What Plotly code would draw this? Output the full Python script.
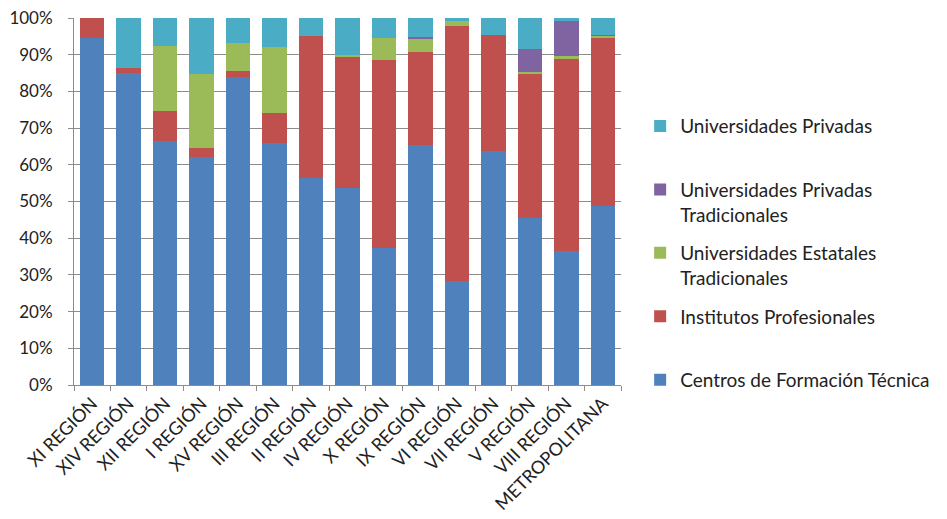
import plotly.graph_objects as go

regiones = ["XI REGIÓN", "XIV REGIÓN", "XII REGIÓN", "I REGIÓN", "XV REGIÓN",
            "III REGIÓN", "II REGIÓN", "IV REGIÓN", "X REGIÓN", "IX REGIÓN",
            "VI REGIÓN", "VII REGIÓN", "V REGIÓN", "VIII REGIÓN", "METROPOLITANA"]

# Share of enrolment by institution type (%)
cft = [94.5, 85.0, 66.5, 62.2, 84.0, 66.0, 56.4, 53.7, 37.4, 65.4, 28.4, 63.8, 45.5, 36.5, 48.8]
ip = [5.5, 1.4, 8.2, 2.3, 1.6, 8.1, 38.7, 35.8, 51.2, 25.3, 69.5, 31.6, 39.2, 52.2, 45.7]
uet = [0.0, 0.0, 17.7, 20.2, 7.6, 18.0, 0.0, 0.3, 5.9, 3.8, 1.3, 0.0, 0.7, 0.9, 0.8]
upt = [0.0, 0.0, 0.0, 0.0, 0.0, 0.0, 0.0, 0.0, 0.0, 0.3, 0.0, 0.0, 6.2, 9.6, 0.2]
up = [0.0, 13.6, 7.6, 15.3, 6.8, 7.9, 4.9, 10.2, 5.5, 5.2, 0.8, 4.6, 8.4, 0.8, 4.5]

series = [
    ("Centros de Formación Técnica<br> ", cft, "#4F81BD"),
    ("Institutos Profesionales<br> ", ip, "#C0504D"),
    ("Universidades Estatales<br>Tradicionales", uet, "#9BBB59"),
    ("Universidades Privadas<br>Tradicionales", upt, "#8064A2"),
    ("Universidades Privadas<br> ", up, "#4BACC6"),
]

fig = go.Figure()
n = len(series)
for i, (name, vals, color) in enumerate(series):
    fig.add_trace(go.Bar(
        x=regiones, y=vals, name=name, legendgroup=f"g{i}",
        legendrank=n - i,
        marker=dict(color=color, line=dict(width=0)),
    ))

font_family = "Lato, 'Open Sans', sans-serif"
grid = "#8C8C8C"
fig.update_layout(
    barmode="stack",
    bargap=0.33,
    width=947, height=519,
    margin=dict(l=74, r=311, t=18, b=134),
    paper_bgcolor="white",
    plot_bgcolor="white",
    font=dict(family=font_family, color="#222222"),
    legend=dict(
        traceorder="grouped",
        tracegroupgap=11,
        valign="top",
        x=1.035, xanchor="left",
        y=0.757, yanchor="top",
        font=dict(size=19, family=font_family, color="#222222"),
        itemwidth=30,
    ),
    yaxis=dict(
        range=[0, 100],
        tickvals=list(range(0, 101, 10)),
        ticktext=[f"{v}%" for v in range(0, 101, 10)],
        tickfont=dict(size=17),
        showgrid=True, gridcolor=grid, gridwidth=1,
        showline=True, linecolor=grid, linewidth=1,
        ticks="outside", ticklen=5, tickcolor=grid,
        ticklabelstandoff=12,
        zeroline=False,
        automargin=False,
    ),
    xaxis=dict(
        tickangle=-45,
        tickfont=dict(size=18),
        showline=True, linecolor=grid, linewidth=1,
        ticks="outside", ticklen=5, tickcolor=grid,
        tickson="boundaries",
        automargin=False,
    ),
)

fig.write_html("out.html")
